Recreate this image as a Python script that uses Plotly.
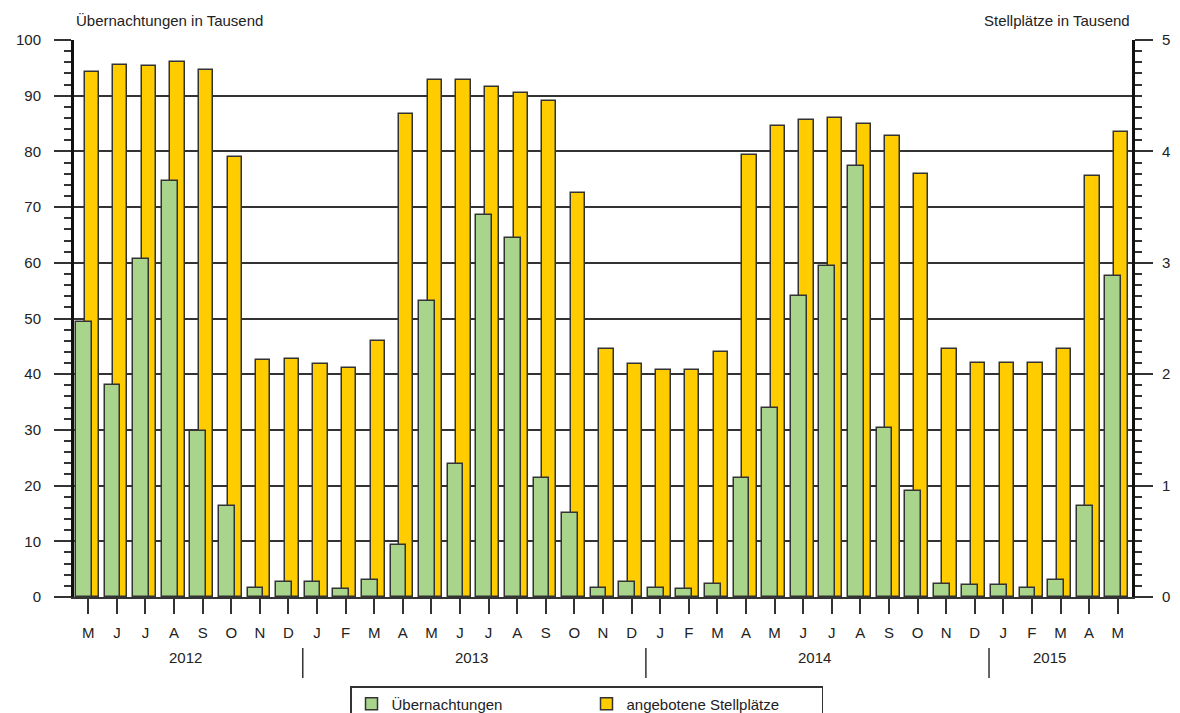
import plotly.graph_objects as go

months = ["M","J","J","A","S","O","N","D",
          "J","F","M","A","M","J","J","A","S","O","N","D",
          "J","F","M","A","M","J","J","A","S","O","N","D",
          "J","F","M","A","M"]
years = ["2012", "2013", "2014", "2015"]
year_pos = [3.4, 13.4, 25.4, 33.6]
year_sep = [7.5, 19.5, 31.5]

uebernachtungen = [49.4, 38.0, 60.7, 74.6, 29.8, 16.3, 1.7, 2.7,
                   2.7, 1.4, 3.1, 9.4, 53.2, 23.9, 68.6, 64.5, 21.4, 15.0, 1.7, 2.7,
                   1.7, 1.4, 2.4, 21.4, 34.0, 54.0, 59.4, 77.4, 30.4, 19.0, 2.4, 2.1,
                   2.1, 1.7, 3.1, 16.3, 57.6]
stellplaetze = [4.71, 4.78, 4.765, 4.80, 4.73, 3.95, 2.125, 2.14,
                2.09, 2.055, 2.30, 4.335, 4.64, 4.64, 4.575, 4.52, 4.45, 3.625, 2.23, 2.09,
                2.035, 2.035, 2.195, 3.965, 4.23, 4.28, 4.30, 4.25, 4.14, 3.80, 2.23, 2.105,
                2.105, 2.105, 2.23, 3.78, 4.175]

x = list(range(len(months)))
FONT = "Liberation Sans"
DARK = "#333333"
TXT = "#222222"

fig = go.Figure()
fig.add_trace(go.Bar(
    x=x, y=stellplaetze, name="angebotene Stellplätze", yaxis="y",
    offset=-0.13, width=0.50,
    marker=dict(color="#ffcc00", line=dict(color=DARK, width=1.5)),
    legendrank=2,
))
fig.add_trace(go.Bar(
    x=x, y=uebernachtungen, name="Übernachtungen", yaxis="y2",
    offset=-0.43, width=0.55,
    marker=dict(color="#a8d48c", line=dict(color=DARK, width=1.5)),
    legendrank=1,
))

PH = 557.0
shapes = []
for s in year_sep:
    shapes.append(dict(type="line", xref="x", yref="paper", x0=s, x1=s,
                       y0=-51 / PH, y1=-81 / PH, line=dict(color=DARK, width=1.5)))

annotations = [
    dict(text="Übernachtungen in Tausend", xref="paper", yref="paper", x=0, y=1,
         xanchor="left", yanchor="middle", yshift=20, showarrow=False,
         font=dict(family=FONT, size=15, color=TXT)),
    dict(text="Stellplätze in Tausend", xref="paper", yref="paper", x=1, y=1,
         xanchor="right", yanchor="middle", yshift=20, showarrow=False,
         font=dict(family=FONT, size=15, color=TXT)),
]
for yl, yp in zip(years, year_pos):
    annotations.append(dict(text=yl, xref="x", yref="paper", x=yp, y=-60 / PH,
                            xanchor="center", yanchor="middle", showarrow=False,
                            font=dict(family=FONT, size=15, color=TXT)))

fig.update_layout(
    width=1180, height=713,
    margin=dict(l=66, r=56, t=32, b=124, autoexpand=False),
    plot_bgcolor="white", paper_bgcolor="white",
    barmode="overlay", bargap=0,
    font=dict(family=FONT, size=15, color=TXT),
    showlegend=True,
    legend=dict(orientation="h", xref="container", yref="container",
                x=(350 - 8) / 1180, y=1 - (686 - 8) / 713,
                xanchor="left", yanchor="top",
                bordercolor=DARK, borderwidth=1.5, entrywidth=190,
                font=dict(family=FONT, size=15, color=TXT),
                traceorder="normal"),
    xaxis=dict(range=[-0.5, 36.5], tickmode="array", tickvals=x, ticktext=months,
               ticks="outside", ticklen=15, tickcolor=DARK, tickwidth=1.5,
               ticklabelstandoff=6, automargin=False,
               showline=True, linecolor=DARK, linewidth=2, showgrid=False,
               zeroline=False, tickfont=dict(family=FONT, size=15, color=TXT)),
    yaxis=dict(range=[0, 5], side="right", dtick=1, ticks="outside", ticklen=18,
               tickcolor=DARK, tickwidth=1.5, showline=True, linecolor="#111",
               linewidth=3, showgrid=False, zeroline=False,
               ticklabelstandoff=6, automargin=False,
               minor=dict(dtick=0.1, ticks="outside", ticklen=7, tickcolor=DARK,
                          tickwidth=1.5, showgrid=False),
               tickfont=dict(family=FONT, size=15, color=TXT)),
    yaxis2=dict(range=[0, 100], side="left", overlaying="y", dtick=10,
                ticks="outside", ticklen=17, tickcolor=DARK, tickwidth=1.5,
                showline=True, linecolor="#111", linewidth=3,
                ticklabelstandoff=10, automargin=False,
                showgrid=True, gridcolor=DARK, gridwidth=1.5, zeroline=False,
                minor=dict(dtick=2, ticks="outside", ticklen=7, tickcolor=DARK,
                           tickwidth=1.5, showgrid=False),
                tickfont=dict(family=FONT, size=15, color=TXT)),
    shapes=shapes,
    annotations=annotations,
)

fig.write_html("out.html")
